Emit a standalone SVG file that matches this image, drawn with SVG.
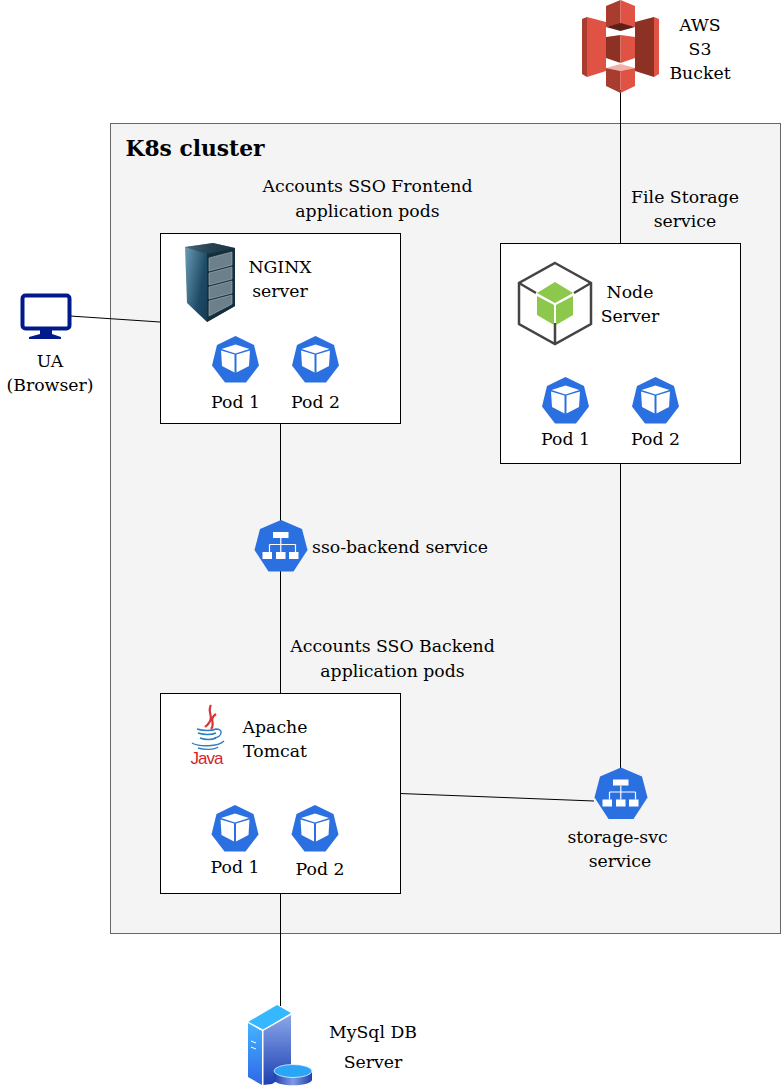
<svg xmlns="http://www.w3.org/2000/svg" width="781" height="1090" viewBox="0 0 781 1090">
<style>
.t{font-family:"DejaVu Serif","Liberation Serif",serif;font-size:17.3px;fill:#000;text-anchor:middle}
.box{fill:#fff;stroke:#000;stroke-width:1}
.c{fill:none;stroke:#000;stroke-width:1}
.w{fill:#fff}
.b{fill:#2b70e0}
</style>
<defs>
<linearGradient id="rack" x1="0" x2="1" y1="0" y2="0.300"><stop offset="0" stop-color="#6f9fb8"/><stop offset="0.45" stop-color="#1e4a66"/><stop offset="1" stop-color="#0d2738"/></linearGradient>
<linearGradient id="srvL" x1="0" x2="0" y1="0" y2="1"><stop offset="0" stop-color="#44b4ff"/><stop offset="1" stop-color="#2f66e8"/></linearGradient>
<linearGradient id="srvR" x1="0" x2="0" y1="0" y2="1"><stop offset="0" stop-color="#8aa6e8"/><stop offset="1" stop-color="#1d3fb3"/></linearGradient>
<linearGradient id="disc" x1="0" x2="1" y1="0" y2="0"><stop offset="0" stop-color="#1f3fae"/><stop offset="0.5" stop-color="#7f9be4"/><stop offset="1" stop-color="#1f3fae"/></linearGradient>
<g id="pod">
<path class="b" d="M0-23.500 18.500-14.500 23.500 6 10.500 23 -10.500 23 -23.500 6 -18.500-14.500Z"/>
<path class="w" d="M0-15 14-10.500 0-6 -14-10.500Z"/>
<path class="w" d="M-14.500-9 -1-5 -1 13 -13.500 6.500Z"/>
<path class="w" d="M14.500-9 1-5 1 13 13.500 6.500Z"/>
</g>
<g id="svc">
<path class="b" d="M0.500-26 21.500-17 27 4 13 25.500 -12 25.500 -26 4 -20.500-17Z"/>
<rect class="w" x="-7.500" y="-14" width="15.500" height="6"/>
<path d="M0.300-8V-1.500M-11-1.500H15M-11-1.500V6M0.300-1.500V6M15-1.500V6" fill="none" stroke="#fff" stroke-width="1.200"/>
<rect class="w" x="-18" y="6" width="9.500" height="7"/>
<rect class="w" x="-4.500" y="6" width="9.500" height="7"/>
<rect class="w" x="8.500" y="6" width="9.500" height="7"/>
</g>
</defs>

<rect id="cluster" x="110.500" y="123.500" width="670" height="810" fill="#f4f4f4" stroke="#666"/>
<text class="t" x="195" y="156" style="font-size:21.800px;font-weight:bold">K8s cluster</text>

<g id="connectors">
<path class="c" d="M620.500 90V243"/>
<path class="c" d="M70 316 160 322"/>
<path class="c" d="M280.500 423V522"/>
<path class="c" d="M280.500 570V693"/>
<path class="c" d="M620.500 463V768"/>
<path class="c" d="M400 793.500 594 801"/>
<path class="c" d="M280.500 893V1006"/>
</g>

<g id="s3">
<path fill="#a83c2e" d="M582 19 587 17V77L582 74Z"/>
<path fill="#e05243" d="M587 17 606 22V71L587 77Z"/>
<path fill="#8c3123" d="M635 22 654 17V77L635 71Z"/>
<path fill="#e05243" d="M654 17 659 19V74L654 77Z"/>
<path fill="#a83c2e" d="M606 6 620.500 0V24L606 27Z"/>
<path fill="#e05243" d="M620.500 0 635 6V27L620.500 24Z"/>
<path fill="#5e1f18" d="M606 27 620.500 23 635 27 620.500 31Z"/>
<path fill="#8c3123" d="M606 37 620.500 35V63L606 58Z"/>
<path fill="#e05243" d="M620.500 35 635 37V58L620.500 63Z"/>
<path fill="#f2b0a9" d="M606 68 620.500 64 635 68 620.500 71Z"/>
<path fill="#a83c2e" d="M606 68 620.500 71V93L606 86Z"/>
<path fill="#e05243" d="M620.500 71 635 68V86L620.500 93Z"/>
</g>
<g id="s3-label">
<text class="t" x="700" y="31">AWS</text>
<text class="t" x="700" y="55">S3</text>
<text class="t" x="700" y="79">Bucket</text>
</g>

<g id="ua">
<rect x="22.500" y="295.500" width="47" height="33" rx="3" fill="#fff" stroke="#001a8c" stroke-width="4"/>
<path fill="#001a8c" d="M40 330H52V334L61 337V339H29V337L40 334Z"/>
<text class="t" x="50" y="367">UA</text>
<text class="t" x="50" y="391">(Browser)</text>
</g>

<g id="frontend-label">
<text class="t" x="367.500" y="192">Accounts SSO Frontend</text>
<text class="t" x="367.500" y="217">application pods</text>
</g>

<g id="nginx">
<rect class="box" x="160.500" y="233.500" width="240" height="190"/>
<path fill="url(#rack)" d="M185 247 213 243 235 248V306L207 322 187 303Z"/>
<path fill="#14303f" d="M207 254 235 248V306L207 322Z"/>
<path fill="#2d3d47" d="M185 247 213 243 235 248 207 254Z" opacity=".55"/>
<g fill="#6d7f8a" stroke="#aab6bc" stroke-width=".6">
<path d="M209 258 232 252V265L209 271Z"/>
<path d="M209 273 232 267V279L209 285Z"/>
<path d="M209 287 232 281V293L209 299Z"/>
<path d="M209 301 232 295V304L209 316Z"/>
</g>
<text class="t" x="280" y="273">NGINX</text>
<text class="t" x="280" y="297">server</text>
<use href="#pod" x="235.500" y="359.500"/>
<use href="#pod" x="315.500" y="359.500"/>
<text class="t" x="235.500" y="408">Pod 1</text>
<text class="t" x="315.500" y="408">Pod 2</text>
</g>

<g id="storage-label">
<text class="t" x="685" y="203">File Storage</text>
<text class="t" x="685" y="227">service</text>
</g>

<g id="node-server">
<rect class="box" x="500.500" y="243.500" width="240" height="220"/>
<path fill="none" stroke="#444" stroke-width="2.500" d="M555 263 591 283V324L555 344 519 324V283Z"/>
<path fill="none" stroke="#444" stroke-width="2.500" d="M519 283 536 293M591 283 574 293M555 323V344"/>
<path fill="#8cc84b" d="M555 282 573 293 555 303 537 293Z"/>
<path fill="#8cc84b" d="M537 296 554 305V325L537 315Z"/>
<path fill="#8cc84b" d="M573 296 556 305V325L573 315Z"/>
<text class="t" x="630" y="298">Node</text>
<text class="t" x="630" y="322">Server</text>
<use href="#pod" x="565.500" y="400.500"/>
<use href="#pod" x="655.500" y="400.500"/>
<text class="t" x="565.500" y="445">Pod 1</text>
<text class="t" x="655.500" y="445">Pod 2</text>
</g>

<g id="sso-backend">
<use href="#svc" x="280.500" y="546"/>
<text class="t" x="400" y="553">sso-backend service</text>
</g>

<g id="backend-label">
<text class="t" x="392.500" y="652">Accounts SSO Backend</text>
<text class="t" x="392.500" y="677">application pods</text>
</g>

<g id="tomcat">
<rect class="box" x="160.500" y="693.500" width="240" height="200"/>
<path fill="none" stroke="#d8343a" stroke-width="2.200" d="M211 705C206 713 217 717 205 727M216 714C208 719 216 724 211 729"/>
<path fill="none" stroke="#2f7fc0" stroke-width="1.400" d="M197 729C203 731 212 731 216 729C224 729 222 737 214 738M198 733C204 735 212 735 216 733M192 743C199 747 218 747 224 741M200 738C205 740 212 740 216 738M198 748C204 750 214 750 218 747"/>
<text x="207" y="764" text-anchor="middle" textLength="33" font-family="Liberation Sans,sans-serif" font-size="17" fill="#d8232a">Java</text>
<text class="t" x="275" y="733">Apache</text>
<text class="t" x="275" y="757">Tomcat</text>
<use href="#pod" x="235" y="828.500"/>
<use href="#pod" x="315" y="828.500"/>
<text class="t" x="235" y="873">Pod 1</text>
<text class="t" x="320" y="875">Pod 2</text>
</g>

<g id="storage-svc">
<use href="#svc" x="620.500" y="793.500"/>
<text class="t" x="617.500" y="843">storage-svc</text>
<text class="t" x="620" y="867">service</text>
</g>

<g id="mysql">
<path fill="url(#srvL)" d="M248 1023 262 1031V1085L248 1077Z"/>
<path fill="#35b8ff" d="M248 1022 277 1005 291 1013 263 1030Z"/>
<path fill="url(#srvR)" d="M263 1031 291 1015V1072L272 1084 263 1085Z"/>
<path fill="none" stroke="#fff" stroke-width="1" d="M248 1022 263 1030 291 1014M263 1030V1085M251 1041 256 1043M251 1047 256 1049"/>
<path fill="url(#disc)" d="M274 1072V1080C276 1087 310 1087 312 1080V1072Z"/>
<ellipse cx="293" cy="1071" rx="19" ry="6.500" fill="#2ba5f5" stroke="#fff" stroke-width=".7"/>
<text class="t" x="373" y="1038">MySql DB</text>
<text class="t" x="373" y="1068">Server</text>
</g>
</svg>
